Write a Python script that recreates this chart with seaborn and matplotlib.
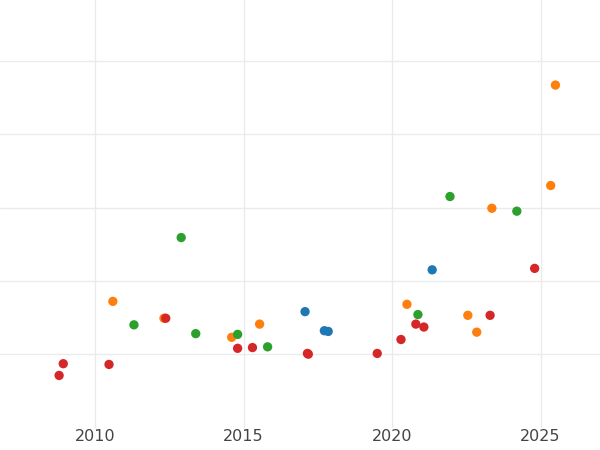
import matplotlib
matplotlib.use("Agg")
import matplotlib.pyplot as plt
import seaborn as sns
import pandas as pd

blue_x = [2017.07, 2017.72, 2017.85, 2021.35]
blue_y = [1.58, 1.32, 1.31, 2.15]
orange_x = [2025.5, 2025.34, 2023.36, 2020.5, 2022.55, 2022.85, 2015.54, 2014.6, 2010.6, 2012.32]
orange_y = [4.67, 3.3, 2.99, 1.68, 1.53, 1.3, 1.41, 1.23, 1.72, 1.49]
green_x = [2012.9, 2021.95, 2024.2, 2011.31, 2013.39, 2014.8, 2015.81, 2020.87]
green_y = [2.59, 3.15, 2.95, 1.4, 1.28, 1.27, 1.1, 1.54]
red_x = [2008.79, 2008.93, 2010.47, 2012.38, 2014.8, 2015.3, 2017.15, 2017.18, 2019.5, 2020.3, 2020.8, 2021.07, 2023.3, 2024.8]
red_y = [0.71, 0.87, 0.86, 1.49, 1.08, 1.09, 1.01, 1.0, 1.01, 1.2, 1.41, 1.37, 1.53, 2.17]

groups = ["a", "b", "c", "d"]
df = pd.concat([
    pd.DataFrame({"x": xs, "y": ys, "g": g})
    for xs, ys, g in zip([blue_x, orange_x, green_x, red_x],
                         [blue_y, orange_y, green_y, red_y], groups)
])

sns.set_theme(style="whitegrid", rc={"grid.color": "#ebebeb"})
fig = plt.figure(figsize=(6, 4.5), dpi=100)
ax = fig.add_axes([0, 0.05, 1, 0.95])
sns.scatterplot(data=df, x="x", y="y", hue="g", hue_order=groups,
                palette=["#1f77b4", "#ff7f0e", "#2ca02c", "#d62728"],
                s=45, edgecolor="none", legend=False, ax=ax)
ax.set_xlim(2006.8, 2027.0)
ax.set_ylim(0, 5.83)
ax.set_xticks([2010, 2015, 2020, 2025])
ax.set_yticks([1, 2, 3, 4, 5])
ax.set_yticklabels([])
ax.tick_params(axis="x", labelsize=11.5, labelcolor="#444444", pad=1, length=0)
ax.set_xlabel("")
ax.set_ylabel("")
for s in ax.spines.values():
    s.set_visible(False)
fig.savefig("out.png", dpi=100)
